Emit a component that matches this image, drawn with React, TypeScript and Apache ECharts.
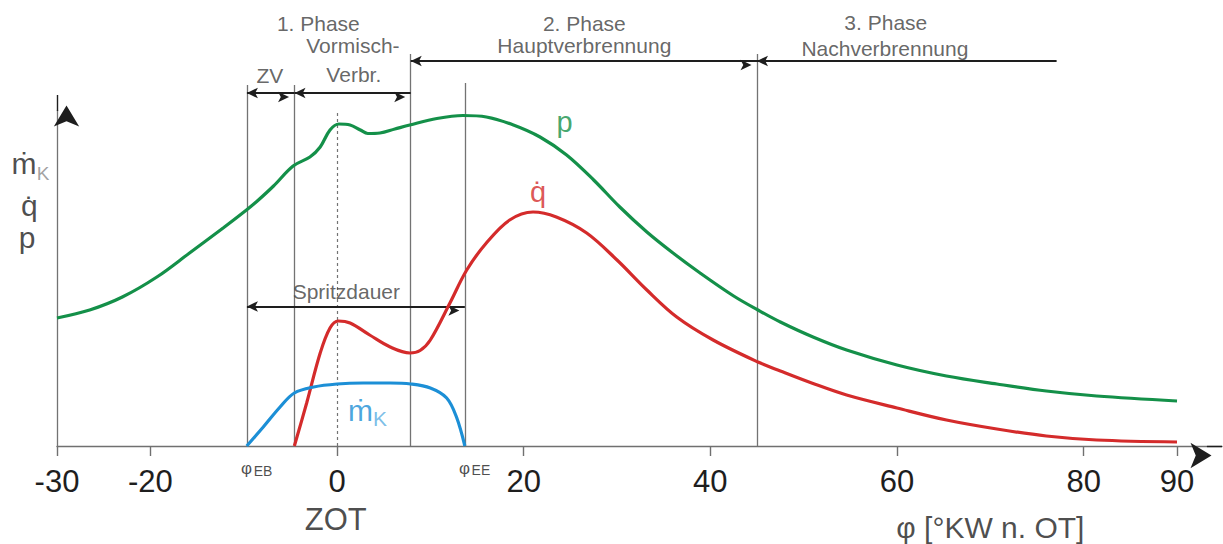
import React, { useEffect, useRef } from "react";
import * as echarts from "echarts";

// Crank angle φ [°KW n. OT] paired with relative signal height
const pressure: [number, number][] = [
  [-30, 128], [-26.5, 136], [-23, 149], [-19.3, 169], [-15.8, 193], [-12.2, 218],
  [-9.7, 236], [-8.6, 244.5], [-6.8, 260], [-4.7, 280], [-2.9, 289], [-1.8, 299],
  [-0.75, 316], [0.2, 322], [1.4, 321], [2.5, 316], [3.3, 312.5], [4.6, 313],
  [6.2, 317], [7.8, 321], [10.7, 327.5], [13.5, 330.5], [16, 329], [18.9, 321],
  [21.75, 309], [24.6, 291], [27.5, 266], [30.3, 239], [33.2, 214], [36, 193],
  [38.9, 173], [42.5, 150], [45.1, 136], [47.5, 124], [51, 109], [54.6, 96],
  [60, 81], [65.3, 70], [70.7, 62], [76, 55], [81.4, 50], [90, 45],
];

const heatRelease: [number, number][] = [
  [-4.57, 0], [-3.25, 43], [-1.8, 93], [-0.75, 118], [0.14, 125], [1.4, 123],
  [3.5, 111], [5.7, 99], [7.8, 93], [8.9, 95.5], [10, 106], [12.1, 143],
  [13.9, 176], [16, 203], [18.5, 226], [21, 234], [23.5, 229], [26.75, 213],
  [30, 186], [33.2, 156], [36.4, 129], [40.3, 106], [45.1, 84], [47.5, 75],
  [51, 62.5], [54.6, 51], [60, 38], [65.3, 26], [70.7, 17], [76, 10], [81.4, 6],
  [90, 4],
];

const injectionRate: [number, number][] = [
  [-9.67, 0], [-7.9, 19], [-6.1, 39], [-4.57, 53], [-2.5, 59], [0, 62],
  [2.8, 63], [5.7, 63], [7.9, 62], [10, 58], [11.75, 48], [12.8, 29], [13.7, 0],
];

const xTicks = [-30, -20, 0, 20, 40, 60, 80, 90];

// Characteristic crank angles
const injStart = -9.65; // φEB
const ignition = -4.55; // end of ignition delay (ZV)
const tdc = 0; // ZOT
const premixEnd = 7.9;
const injEnd = 13.7; // φEE
const mainEnd = 45;
const afterEnd = 77.1;

const X_MIN = -30;
const X_MAX = 94.82;
const Y_MAX = 446;

const FONT = '"Liberation Sans", Arial, Helvetica, sans-serif';
const GREEN = "#149049";
const RED = "#d42b2b";
const BLUE = "#1c8fd6";
const GUIDE = "#737373";
const INK = "#1e1e1e";
const PHASE_TEXT = "#404040";

type Note = { text: string; at: [number, number]; size: number; color: string };

const notes: Note[] = [
  { text: "1. Phase", at: [-2.0, 423], size: 21, color: PHASE_TEXT },
  { text: "Vormisch-", at: [1.7, 400.5], size: 21, color: PHASE_TEXT },
  { text: "Verbr.", at: [1.8, 371.5], size: 21, color: PHASE_TEXT },
  { text: "ZV", at: [-7.2, 370.5], size: 21, color: PHASE_TEXT },
  { text: "2. Phase", at: [26.5, 423], size: 21, color: PHASE_TEXT },
  { text: "Hauptverbrennung", at: [26.5, 401], size: 21, color: PHASE_TEXT },
  { text: "3. Phase", at: [58.8, 424], size: 21, color: PHASE_TEXT },
  { text: "Nachverbrennung", at: [58.7, 397.5], size: 21, color: PHASE_TEXT },
  { text: "Spritzdauer", at: [1.0, 155], size: 21, color: PHASE_TEXT },
  // y-axis quantity labels
  { text: "\u1E41", at: [-33.54, 282.4], size: 30, color: INK },
  { text: "K", at: [-31.5, 273], size: 19, color: "#8a8a8a" },
  { text: "q\u0307", at: [-32.95, 240.4], size: 30, color: INK },
  { text: "p", at: [-33.2, 209], size: 30, color: INK },
  // curve labels
  { text: "p", at: [24.38, 324], size: 29, color: GREEN },
  { text: "q\u0307", at: [21.54, 254.5], size: 29, color: RED },
  { text: "\u1E41", at: [2.52, 35.3], size: 30, color: BLUE },
  { text: "K", at: [4.61, 27.5], size: 21, color: "#5aaee2" },
  // below the axis
  { text: "\u03C6", at: [-9.7, -22.5], size: 17, color: INK },
  { text: "EB", at: [-7.93, -25], size: 14, color: INK },
  { text: "\u03C6", at: [13.66, -22], size: 17, color: INK },
  { text: "EE", at: [15.42, -24], size: 14, color: INK },
  { text: "ZOT", at: [-0.14, -73.5], size: 31, color: INK },
  { text: "\u03C6 [°KW n. OT]", at: [70.0, -81], size: 30, color: INK },
];

const vLine = (x: number, top: number) => [
  { coord: [x, 0], symbol: "none" },
  { coord: [x, top], symbol: "none" },
];

const hArrow = (x1: number, x2: number, y: number, s1 = "arrow", s2 = "arrow") => [
  { coord: [x1, y], symbol: s1 },
  { coord: [x2, y], symbol: s2 },
];

const curve = (name: string, data: [number, number][], color: string) => ({
  name,
  type: "line",
  data,
  smooth: 0.35,
  showSymbol: false,
  silent: true,
  z: 5,
  lineStyle: { color, width: 3.2 },
});

export default function App() {
  const ref = useRef<HTMLDivElement>(null);

  useEffect(() => {
    if (!ref.current) return;
    const chart = echarts.init(ref.current, undefined, { renderer: "svg" });

    chart.setOption({
      animation: false,
      backgroundColor: "#ffffff",
      textStyle: { fontFamily: FONT },
      grid: { left: 57, right: 1, top: 0, bottom: 98, outerBoundsMode: "none" },
      xAxis: {
        type: "value",
        min: X_MIN,
        max: X_MAX,
        splitLine: { show: false },
        axisLine: { show: true, lineStyle: { color: "#707070", width: 1.4 } },
        axisTick: {
          show: true,
          customValues: xTicks,
          length: 10,
          lineStyle: { color: "#707070", width: 1.4 },
        },
        axisLabel: {
          customValues: xTicks,
          fontSize: 31,
          color: INK,
          margin: 20,
          fontFamily: FONT,
        },
      },
      yAxis: {
        type: "value",
        min: 0,
        max: Y_MAX,
        show: false,
        splitLine: { show: false },
      },
      series: [
        {
          name: "guides",
          type: "line",
          data: [],
          silent: true,
          z: 2,
          markLine: {
            silent: true,
            animation: false,
            symbol: "none",
            label: { show: false },
            emphasis: { disabled: true },
            lineStyle: { color: GUIDE, width: 1.3, type: "solid" },
            data: [
              vLine(injStart, 361),
              vLine(ignition, 361),
              vLine(premixEnd, 392),
              vLine(injEnd, 363),
              vLine(mainEnd, 392),
              // y axis
              [{ coord: [X_MIN, 0], symbol: "none" }, { coord: [X_MIN, 336], symbol: "none" }],
            ],
          },
        },
        {
          name: "zot",
          type: "line",
          data: [],
          silent: true,
          z: 2,
          markLine: {
            silent: true,
            animation: false,
            symbol: "none",
            label: { show: false },
            emphasis: { disabled: true },
            lineStyle: { color: GUIDE, width: 1.2, type: [3, 3] },
            data: [vLine(tdc, 333)],
          },
        },
        {
          name: "spans",
          type: "line",
          data: [],
          silent: true,
          z: 3,
          markLine: {
            silent: true,
            animation: false,
            symbolSize: [8, 11],
            symbolOffset: [0, "50%"],
            label: { show: false },
            emphasis: { disabled: true },
            lineStyle: { color: INK, width: 1.8, type: "solid" },
            data: [
              hArrow(injStart, ignition, 353),
              hArrow(ignition, premixEnd, 353),
              hArrow(premixEnd, mainEnd, 385),
              hArrow(mainEnd, afterEnd, 385, "arrow", "none"),
              hArrow(injStart, injEnd, 139.5),
            ],
          },
        },
        {
          name: "axisHeads",
          type: "line",
          data: [],
          silent: true,
          z: 3,
          markLine: {
            silent: true,
            animation: false,
            symbolSize: [19, 21],
            symbolOffset: [0, "50%"],
            label: { show: false },
            emphasis: { disabled: true },
            lineStyle: { color: INK, width: 1.4, type: "solid" },
            data: [
              [{ coord: [X_MIN, 335], symbol: "none" }, { coord: [X_MIN, 351], symbol: "arrow" }],
              [{ coord: [93.2, 0], symbol: "none" }, { coord: [X_MAX, 0], symbol: "arrow" }],
            ],
          },
        },
        curve("p", pressure, GREEN),
        curve("q", heatRelease, RED),
        curve("mK", injectionRate, BLUE),
        {
          name: "notes",
          type: "scatter",
          symbolSize: 0,
          clip: false,
          silent: true,
          z: 6,
          data: notes.map((n) => ({
            name: n.text,
            value: n.at,
            label: {
              show: true,
              position: "inside",
              formatter: () => n.text,
              fontSize: n.size,
              color: n.color,
              fontFamily: FONT,
            },
          })),
        },
      ],
    });

    return () => chart.dispose();
  }, []);

  return (
    <div
      ref={ref}
      style={{ position: "fixed", left: 0, top: 0, width: 1223, height: 544 }}
    />
  );
}
